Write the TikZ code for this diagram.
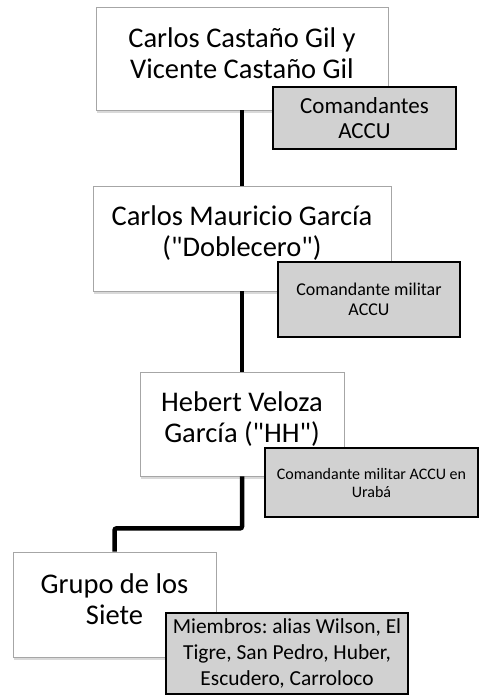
\documentclass[tikz,border=0pt]{standalone}
\usepackage{fontspec}
\setmainfont{Carlito}[Ligatures=TeXOff]
\usetikzlibrary{shadows}
\frenchspacing

\def\linkdrop{52}

\begin{document}
\begin{tikzpicture}[x=1pt,y=-1pt]
\tikzstyle{person}=[rectangle,draw=black!35,fill=white,line width=0.8pt,drop shadow={shadow xshift=1pt,shadow yshift=-3pt,opacity=0.3}]
\tikzstyle{person text}=[align=center,yshift=5pt,font=\fontsize{28.5}{31}\selectfont]
\tikzstyle{role}=[rectangle,draw=black,fill=black!18,line width=1.2pt,align=center,inner sep=2pt]
\tikzstyle{link}=[line width=4.5pt,draw=black,rounded corners=2pt]

\useasboundingbox (0,0) rectangle (479,695);

% Draw the boxes of the chain of command
\node[person,minimum width=292pt,minimum height=103pt,label={[person text]center:{Carlos Castaño Gil y\\Vicente Castaño Gil}}] (P1) at (242,58.5) {};
\node[person,minimum width=298pt,minimum height=105pt,label={[person text]center:{Carlos Mauricio García\\("Doblecero")}}] (P2) at (242,238.5) {};
\node[person,minimum width=204pt,minimum height=104pt,label={[person text]center:{Hebert Veloza\\García ("HH")}}] (P3) at (242,424) {};
\node[person,minimum width=203pt,minimum height=105pt,label={[person text]center:{Grupo de los\\Siete}}] (P4) at (114.5,604.5) {};

% Connect each box with the one below it
\foreach \source/\dest in {P1/P2,P2/P3}
\draw[link] (\source.south) -- (\dest.north);
\draw[link] (P3.south) -- ++(0,\linkdrop) -| (P4.north);

% Annotate the boxes with their roles
\node[role,minimum width=183pt,minimum height=62pt,font=\fontsize{23}{25}\selectfont] (R1) at (364.5,118) {Comandantes\\ACCU};
\node[role,minimum width=182pt,minimum height=75pt,font=\fontsize{18}{19.5}\selectfont] (R2) at (369,299.5) {Comandante militar\\ACCU};
\node[role,minimum width=213pt,minimum height=69pt,font=\fontsize{16}{18}\selectfont] (R3) at (371.5,482.5) {Comandante militar ACCU en\\Urabá};
\node[role,minimum width=242pt,minimum height=81pt,font=\fontsize{21.4}{26}\selectfont] (R4) at (287,653.5) {Miembros: alias Wilson, El\\Tigre, San Pedro, Huber,\\Escudero, Carroloco};
\end{tikzpicture}
\end{document}
